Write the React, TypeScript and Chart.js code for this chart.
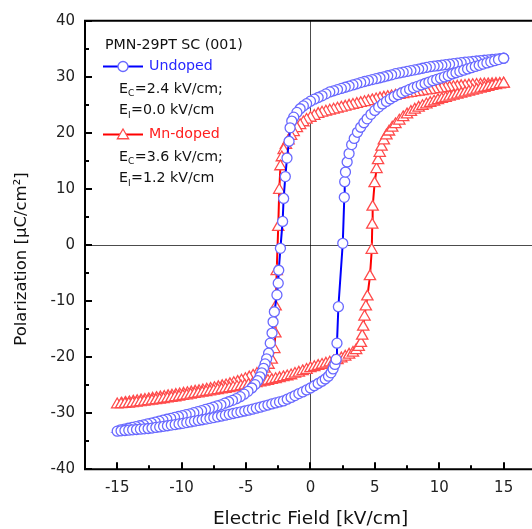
import React, { useEffect, useRef } from "react";
import { Chart, registerables } from "chart.js";

Chart.register(...registerables);

// Undoped PMN-29PT: descending branch (+15 -> -15)
const undopedDownE = [
  15.0, 14.7, 14.4, 14.1, 13.8, 13.5, 13.2, 12.9, 12.6, 12.3, 12.0, 11.7, 11.4, 11.1, 10.8, 10.5, 10.2, 9.9, 9.6, 9.3,
  9.0, 8.7, 8.4, 8.1, 7.8, 7.5, 7.2, 6.9, 6.6, 6.3, 6.0, 5.7, 5.4, 5.1, 4.8, 4.5, 4.2, 3.9, 3.6, 3.3,
  3.0, 2.7, 2.4, 2.1, 1.8, 1.5, 1.2, 0.9, 0.6, 0.3, 0.0, -0.3, -0.55, -0.8, -1.05, -1.3, -1.45, -1.58,
  -1.66, -1.82, -1.95, -2.08, -2.16, -2.33, -2.46, -2.5, -2.6, -2.8, -2.9, -2.98, -3.12, -3.25,
  -3.4, -3.52, -3.64, -3.78, -3.92, -4.1, -4.3, -4.55, -4.85, -5.15, -5.45, -5.75, -6.05, -6.35, -6.65, -6.95,
  -7.25, -7.55, -7.85, -8.15, -8.45, -8.75, -9.05, -9.35, -9.65, -9.95, -10.25, -10.55, -10.85, -11.15, -11.45, -11.75,
  -12.05, -12.35, -12.65, -12.95, -13.25, -13.55, -13.85, -14.15, -14.45, -14.75, -15.0,
];
const undopedDownP = [
  33.3, 33.23, 33.16, 33.09, 33.02, 32.95, 32.88, 32.81, 32.74, 32.67, 32.6, 32.51, 32.42, 32.33, 32.24, 32.15, 32.06, 31.97, 31.89, 31.8,
  31.66, 31.52, 31.38, 31.24, 31.1, 30.96, 30.82, 30.69, 30.55, 30.35, 30.18, 30.0, 29.83, 29.66, 29.5, 29.33, 29.16, 28.97, 28.75, 28.55,
  28.34, 28.13, 27.92, 27.72, 27.5, 27.3, 26.95, 26.6, 26.3, 26.0, 25.65, 25.2, 24.8, 24.3, 23.65, 22.8, 22.1, 20.9,
  18.5, 15.5, 12.2, 8.3, 4.2, -0.6, -4.5, -6.8, -8.9, -11.9, -13.7, -15.7, -17.5, -19.3,
  -20.3, -21.2, -22.0, -22.8, -23.5, -24.2, -24.9, -25.5, -26.1, -26.6, -27.05, -27.4, -27.7, -27.95, -28.2, -28.5,
  -28.7, -28.92, -29.13, -29.33, -29.53, -29.72, -29.91, -30.1, -30.26, -30.42, -30.58, -30.75, -30.91, -31.07, -31.24, -31.41,
  -31.58, -31.75, -31.91, -32.08, -32.23, -32.38, -32.53, -32.68, -32.83, -32.98, -33.2,
];
// Undoped: ascending branch (-15 -> +15)
const undopedUpE = [
  -14.7, -14.4, -14.1, -13.8, -13.5, -13.2, -12.9, -12.6, -12.3, -12.0, -11.7, -11.4, -11.1, -10.8, -10.5, -10.2, -9.9, -9.6, -9.3,
  -9.0, -8.7, -8.4, -8.1, -7.8, -7.5, -7.2, -6.9, -6.6, -6.3, -6.0, -5.7, -5.4, -5.1, -4.8, -4.5, -4.2, -3.9, -3.6, -3.3,
  -3.0, -2.7, -2.4, -2.1, -1.8, -1.5, -1.2, -0.9, -0.6, -0.3, 0.0, 0.3, 0.6, 0.9, 1.15, 1.4, 1.6, 1.76, 1.9, 2.0,
  2.06, 2.17, 2.51, 2.63, 2.66, 2.72, 2.85, 3.0, 3.2, 3.4, 3.65, 3.9, 4.15, 4.4, 4.7, 5.0, 5.3, 5.6, 5.9, 6.2,
  6.5, 6.8, 7.1, 7.4, 7.7, 8.0, 8.3, 8.6, 8.9, 9.2, 9.5, 9.8, 10.1, 10.4, 10.7, 11.0, 11.3, 11.6, 11.9, 12.2,
  12.5, 12.8, 13.1, 13.4, 13.7, 14.0, 14.3, 14.6, 15.0,
];
const undopedUpP = [
  -33.14, -33.08, -33.02, -32.96, -32.9, -32.84, -32.78, -32.72, -32.64, -32.54, -32.44, -32.33, -32.23, -32.12, -32.02, -31.91, -31.8, -31.67, -31.55,
  -31.42, -31.29, -31.16, -31.04, -30.91, -30.78, -30.65, -30.5, -30.35, -30.2, -30.05, -29.9, -29.75, -29.6, -29.45, -29.28, -29.1, -28.92, -28.73, -28.54,
  -28.35, -28.16, -27.98, -27.8, -27.5, -27.18, -26.85, -26.5, -26.2, -25.85, -25.5, -25.1, -24.7, -24.3, -23.9, -23.4, -22.8, -22.1, -21.3, -20.4,
  -17.5, -11.0, 0.3, 8.5, 11.3, 13.0, 14.8, 16.3, 17.9, 19.0, 20.1, 21.0, 21.8, 22.5, 23.3, 24.0, 24.6, 25.15, 25.6, 26.05,
  26.45, 26.8, 27.15, 27.45, 27.75, 28.05, 28.3, 28.55, 28.8, 29.05, 29.3, 29.52, 29.75, 29.97, 30.2, 30.5, 30.72, 30.95, 31.17, 31.4,
  31.62, 31.84, 32.05, 32.26, 32.47, 32.67, 32.87, 33.07, 33.3,
];

// Mn-doped PMN-29PT: descending branch
const mnDownE = [
  15.0, 14.7, 14.4, 14.1, 13.8, 13.5, 13.2, 12.9, 12.6, 12.3, 12.0, 11.7, 11.4, 11.1, 10.8, 10.5, 10.2, 9.9, 9.6, 9.3,
  9.0, 8.7, 8.4, 8.1, 7.8, 7.5, 7.2, 6.9, 6.6, 6.3, 6.0, 5.7, 5.4, 5.1, 4.8, 4.5, 4.2, 3.9, 3.6, 3.3,
  3.0, 2.7, 2.4, 2.1, 1.8, 1.5, 1.2, 0.9, 0.6, 0.3, 0.0, -0.3, -0.55, -0.8, -1.05, -1.3, -1.5, -1.7, -1.9, -2.08,
  -2.22, -2.33, -2.42, -2.5, -2.62, -2.7, -2.72, -2.8, -3.0, -3.25, -3.55, -3.85, -4.15, -4.45, -4.75, -5.05, -5.35, -5.65,
  -5.95, -6.25, -6.55, -6.85, -7.15, -7.45, -7.75, -8.05, -8.35, -8.65, -8.95, -9.25, -9.55, -9.85, -10.15, -10.45, -10.75, -11.05,
  -11.35, -11.65, -11.95, -12.25, -12.55, -12.85, -13.15, -13.45, -13.75, -14.05, -14.35, -14.65, -15.0,
];
const mnDownP = [
  28.75, 28.72, 28.69, 28.66, 28.63, 28.6, 28.56, 28.53, 28.49, 28.42, 28.35, 28.28, 28.21, 28.14, 28.07, 28.0, 27.93, 27.84, 27.74, 27.63,
  27.53, 27.42, 27.32, 27.21, 27.1, 27.0, 26.87, 26.74, 26.61, 26.48, 26.36, 26.23, 26.1, 25.94, 25.78, 25.62, 25.45, 25.29, 25.13, 24.97,
  24.81, 24.64, 24.47, 24.3, 24.12, 23.94, 23.76, 23.58, 23.35, 23.0, 22.65, 22.3, 21.85, 21.35, 20.8, 20.1, 19.4, 18.6, 17.8, 16.9,
  15.6, 14.0, 9.8, 3.2, -4.7, -11.0, -15.8, -18.6, -20.5, -21.4, -22.1, -22.6, -23.0, -23.35, -23.65, -23.95, -24.2, -24.45,
  -24.65, -24.85, -25.05, -25.22, -25.38, -25.54, -25.68, -25.82, -25.95, -26.08, -26.2, -26.32, -26.44, -26.55, -26.66, -26.77, -26.88, -26.99,
  -27.1, -27.21, -27.32, -27.43, -27.54, -27.65, -27.76, -27.87, -27.98, -28.09, -28.2, -28.32, -28.45,
];
// Mn-doped: ascending branch
const mnUpE = [
  -14.7, -14.4, -14.1, -13.8, -13.5, -13.2, -12.9, -12.6, -12.3, -12.0, -11.7, -11.4, -11.1, -10.8, -10.5, -10.2, -9.9, -9.6, -9.3,
  -9.0, -8.7, -8.4, -8.1, -7.8, -7.5, -7.2, -6.9, -6.6, -6.3, -6.0, -5.7, -5.4, -5.1, -4.8, -4.5, -4.2, -3.9, -3.6, -3.3,
  -3.0, -2.7, -2.4, -2.1, -1.8, -1.5, -1.2, -0.9, -0.6, -0.3, 0.0, 0.3, 0.6, 0.9, 1.2, 1.5, 1.8, 2.1, 2.4, 2.7,
  3.0, 3.3, 3.55, 3.75, 3.92, 4.02, 4.1, 4.2, 4.3, 4.42, 4.62, 4.76, 4.8, 4.83, 4.98, 5.13, 5.25, 5.38, 5.52, 5.7,
  5.9, 6.1, 6.35, 6.6, 6.9, 7.2, 7.5, 7.8, 8.1, 8.4, 8.7, 9.0, 9.3, 9.6, 9.9, 10.2, 10.5, 10.8, 11.1, 11.4,
  11.7, 12.0, 12.3, 12.6, 12.9, 13.2, 13.5, 13.8, 14.1, 14.4, 14.7, 15.0,
];
const mnUpP = [
  -28.42, -28.38, -28.32, -28.25, -28.17, -28.08, -27.99, -27.9, -27.81, -27.71, -27.61, -27.51, -27.41, -27.3, -27.2, -27.08, -26.96, -26.85, -26.73,
  -26.61, -26.5, -26.38, -26.26, -26.15, -26.03, -25.91, -25.8, -25.68, -25.56, -25.45, -25.33, -25.21, -25.08, -24.95, -24.82, -24.68, -24.54, -24.4, -24.25,
  -24.1, -23.94, -23.78, -23.62, -23.45, -23.27, -23.0, -22.8, -22.55, -22.3, -22.0, -21.8, -21.6, -21.4, -21.2, -21.0, -20.8, -20.55, -20.25, -19.95,
  -19.6, -19.25, -18.8, -18.2, -17.5, -16.2, -14.6, -12.8, -11.0, -9.2, -5.6, -0.9, 3.6, 6.8, 11.0, 13.5, 15.1, 16.4, 17.5, 18.6,
  19.5, 20.2, 20.9, 21.5, 22.15, 22.75, 23.25, 23.7, 24.1, 24.45, 24.75, 25.05, 25.3, 25.55, 25.8, 26.0, 26.2, 26.4, 26.6, 26.78,
  26.96, 27.14, 27.32, 27.5, 27.67, 27.84, 28.0, 28.16, 28.32, 28.48, 28.62, 28.75,
];

const xTickValues = [-15, -10, -5, 0, 5, 10, 15];
const xMinorValues = [-12.5, -7.5, -2.5, 2.5, 7.5, 12.5];
const yTickValues = [-40, -30, -20, -10, 0, 10, 20, 30, 40];
const yMinorValues = [-35, -25, -15, -5, 5, 15, 25, 35];

const seriesName1 = "Undoped";
const seriesName2 = "Mn-doped";
const sampleLabel = "PMN-29PT SC (001)";
const info1 = [["E", "C", "=2.4 kV/cm;"], ["E", "I", "=0.0 kV/cm"]];
const info2 = [["E", "C", "=3.6 kV/cm;"], ["E", "I", "=1.2 kV/cm"]];
const xTitle = "Electric Field [kV/cm]";
const yTitle = "Polarization [\u00B5C/cm\u00B2]";

const FONT = "'DejaVu Sans', Verdana, sans-serif";
const BLUE_LINE = "#0000ff";
const BLUE_MARK = "rgb(105,105,255)";
const RED_LINE = "#ff0000";
const RED_MARK = "rgb(255,75,75)";

function toPoints(es: number[], ps: number[]) {
  return es.map((e, i) => ({ x: e, y: ps[i] }));
}

function drawTriangle(ctx: CanvasRenderingContext2D, cx: number, cy: number, r: number) {
  const s = Math.sqrt(3) * r;
  ctx.beginPath();
  ctx.moveTo(cx, cy - r);
  ctx.lineTo(cx + s / 2, cy + r / 2);
  ctx.lineTo(cx - s / 2, cy + r / 2);
  ctx.closePath();
}

const decorPlugin = {
  id: "decor",
  afterDatasetsDraw(chart: any) {
    const { ctx, chartArea: a, scales } = chart;
    const xs = scales.x;
    const ys = scales.y;
    ctx.save();
    ctx.strokeStyle = "#000";
    ctx.lineWidth = 2;
    ctx.beginPath();
    ctx.moveTo(a.right + 2, a.top);
    ctx.lineTo(a.left, a.top);
    ctx.lineTo(a.left, a.bottom);
    ctx.lineTo(a.right + 2, a.bottom);
    ctx.stroke();
    ctx.beginPath();
    xTickValues.forEach((v) => {
      const px = Math.round(xs.getPixelForValue(v));
      ctx.moveTo(px, a.bottom);
      ctx.lineTo(px, a.bottom - 7);
    });
    xMinorValues.forEach((v) => {
      const px = Math.round(xs.getPixelForValue(v));
      ctx.moveTo(px, a.bottom);
      ctx.lineTo(px, a.bottom - 4);
    });
    yTickValues.forEach((v) => {
      const py = Math.round(ys.getPixelForValue(v));
      ctx.moveTo(a.left, py);
      ctx.lineTo(a.left + 7, py);
    });
    yMinorValues.forEach((v) => {
      const py = Math.round(ys.getPixelForValue(v));
      ctx.moveTo(a.left, py);
      ctx.lineTo(a.left + 4, py);
    });
    ctx.stroke();
    ctx.restore();
  },
  afterDraw(chart: any) {
    const { ctx } = chart;
    ctx.save();
    ctx.fillStyle = "#111";
    ctx.textAlign = "center";
    ctx.textBaseline = "middle";
    ctx.font = `18.5px ${FONT}`;
    ctx.fillText(xTitle, 310.5, 519);
    ctx.save();
    ctx.translate(22, 259);
    ctx.rotate(-Math.PI / 2);
    ctx.font = `16.5px ${FONT}`;
    ctx.fillText(yTitle, 0, 0);
    ctx.restore();

    const fs = 14.2;
    ctx.textAlign = "left";
    ctx.textBaseline = "middle";
    ctx.font = `${fs}px ${FONT}`;
    ctx.fillStyle = "#111";
    ctx.fillText(sampleLabel, 105, 45);

    const drawInfo = (rows: string[][], y0: number) => {
      rows.forEach((r, i) => {
        const y = y0 + i * 21.5;
        let x = 119;
        ctx.font = `${fs}px ${FONT}`;
        ctx.fillStyle = "#111";
        ctx.fillText(r[0], x, y);
        x += ctx.measureText(r[0]).width;
        ctx.font = `9px ${FONT}`;
        ctx.fillText(r[1], x, y + 5);
        x += ctx.measureText(r[1]).width + 0.5;
        ctx.font = `${fs}px ${FONT}`;
        ctx.fillText(r[2], x, y);
      });
    };

    ctx.strokeStyle = BLUE_LINE;
    ctx.lineWidth = 2;
    ctx.beginPath();
    ctx.moveTo(103, 66.5);
    ctx.lineTo(143, 66.5);
    ctx.stroke();
    ctx.beginPath();
    ctx.arc(123, 66.5, 5, 0, Math.PI * 2);
    ctx.fillStyle = "#fff";
    ctx.fill();
    ctx.strokeStyle = BLUE_MARK;
    ctx.lineWidth = 1.3;
    ctx.stroke();
    ctx.font = `${fs}px ${FONT}`;
    ctx.fillStyle = "rgb(40,40,255)";
    ctx.fillText(seriesName1, 149, 66.5);
    drawInfo(info1, 89);

    ctx.strokeStyle = RED_LINE;
    ctx.lineWidth = 2;
    ctx.beginPath();
    ctx.moveTo(103, 134.5);
    ctx.lineTo(143, 134.5);
    ctx.stroke();
    drawTriangle(ctx, 123, 135.5, 6.5);
    ctx.fillStyle = "#fff";
    ctx.fill();
    ctx.strokeStyle = RED_MARK;
    ctx.lineWidth = 1.3;
    ctx.stroke();
    ctx.font = `${fs}px ${FONT}`;
    ctx.fillStyle = "rgb(255,30,30)";
    ctx.fillText(seriesName2, 149, 134.5);
    drawInfo(info2, 157);

    ctx.restore();
  },
};

export default function App() {
  const canvasRef = useRef<HTMLCanvasElement | null>(null);

  useEffect(() => {
    document.body.style.margin = "0";
    document.body.style.overflow = "hidden";
    const canvas = canvasRef.current;
    if (!canvas) return;
    const zeroColor = (c: any) => (c.tick && c.tick.value === 0 ? "rgba(0,0,0,0.7)" : "rgba(0,0,0,0)");
    const chart = new Chart(canvas, {
      type: "scatter",
      data: {
        datasets: [
          {
            label: seriesName1,
            data: [...toPoints(undopedDownE, undopedDownP), ...toPoints(undopedUpE, undopedUpP)],
            showLine: true,
            borderColor: BLUE_LINE,
            borderWidth: 2,
            pointStyle: "circle",
            pointRadius: 5,
            pointBorderWidth: 1.3,
            pointBorderColor: BLUE_MARK,
            pointBackgroundColor: "#ffffff",
            tension: 0,
          },
          {
            label: seriesName2,
            data: [...toPoints(mnDownE, mnDownP), ...toPoints(mnUpE, mnUpP)],
            showLine: true,
            borderColor: RED_LINE,
            borderWidth: 2,
            pointStyle: "triangle",
            pointRadius: 6.5,
            pointBorderWidth: 1.3,
            pointBorderColor: RED_MARK,
            pointBackgroundColor: "#ffffff",
            tension: 0,
          },
        ],
      },
      options: {
        animation: false,
        responsive: false,
        devicePixelRatio: 1,
        layout: { autoPadding: false, padding: { top: 20.7, left: 0, right: 0, bottom: 0 } },
        plugins: { legend: { display: false }, tooltip: { enabled: false } },
        events: [],
        scales: {
          x: {
            type: "linear",
            min: -17.5,
            max: 17.2,
            afterBuildTicks: (s: any) => {
              s.ticks = xTickValues.map((v) => ({ value: v }));
            },
            afterFit: (s: any) => {
              s.height = 529 - 469.3;
              s.paddingLeft = 0;
              s.paddingRight = 0;
            },
            grid: { color: zeroColor, lineWidth: 1, drawTicks: false },
            border: { display: false },
            ticks: {
              padding: 10,
              color: "#222",
              font: { family: FONT, size: 15 },
              maxRotation: 0,
            },
          },
          y: {
            type: "linear",
            min: -40,
            max: 40,
            afterBuildTicks: (s: any) => {
              s.ticks = yTickValues.map((v) => ({ value: v }));
            },
            afterFit: (s: any) => {
              s.width = 85;
              s.paddingTop = 0;
              s.paddingBottom = 0;
            },
            grid: { color: zeroColor, lineWidth: 1, drawTicks: false },
            border: { display: false },
            ticks: {
              padding: 10,
              color: "#222",
              font: { family: FONT, size: 15 },
            },
          },
        },
      } as any,
      plugins: [decorPlugin],
    });
    return () => chart.destroy();
  }, []);

  return (
    <div style={{ position: "fixed", left: 0, top: 0, width: 532, height: 529, background: "#fff", overflow: "hidden" }}>
      <canvas ref={canvasRef} width={532} height={529} style={{ display: "block", width: 532, height: 529 }} />
    </div>
  );
}
